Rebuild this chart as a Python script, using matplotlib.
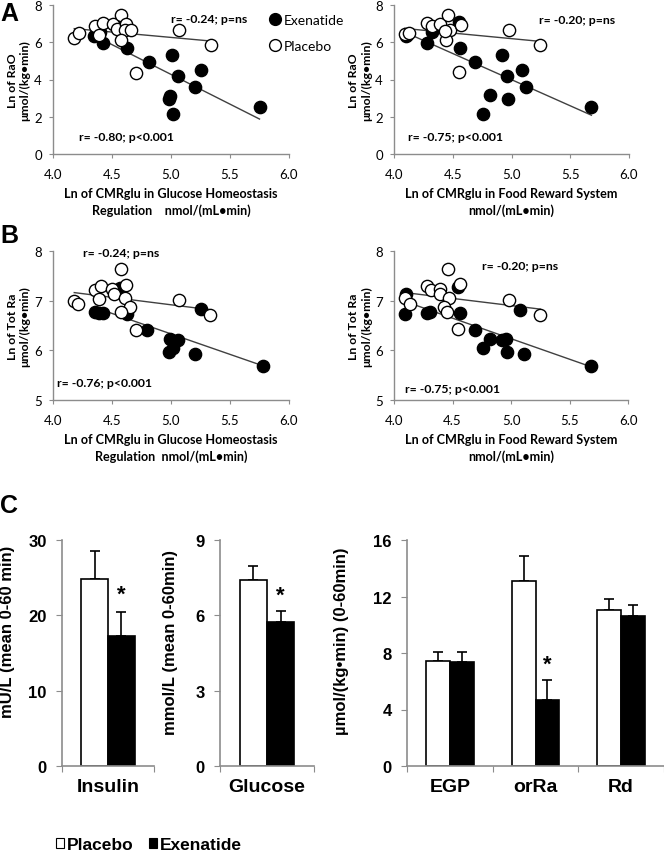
import matplotlib
matplotlib.use("Agg")
import matplotlib.pyplot as plt
from matplotlib.patches import Patch
from matplotlib.lines import Line2D
import numpy as np

# ---- panel A: Ln of RaO vs Ln of CMRglu ----
a1_plac_x = [4.18, 4.22, 4.36, 4.42, 4.39, 4.51, 4.54, 4.58, 4.62, 4.61, 4.66, 4.58, 4.70, 5.07, 5.34]
a1_plac_y = [6.23, 6.48, 6.89, 7.03, 6.39, 6.98, 6.71, 7.48, 6.98, 6.65, 6.67, 6.12, 4.36, 6.65, 5.85]
a1_exen_x = [4.35, 4.40, 4.42, 4.57, 4.63, 4.81, 5.01, 5.06, 5.25, 5.20, 4.99, 4.98, 5.02, 5.75]
a1_exen_y = [6.31, 6.53, 5.94, 7.03, 5.69, 4.96, 5.31, 4.17, 4.53, 3.58, 3.13, 2.95, 2.15, 2.54]

a2_plac_x = [4.09, 4.13, 4.28, 4.32, 4.39, 4.46, 4.48, 4.44, 4.57, 4.55, 4.98, 5.24, 4.43]
a2_plac_y = [6.44, 6.48, 7.01, 6.89, 6.98, 7.48, 6.65, 6.14, 6.94, 4.38, 6.65, 5.85, 6.62]
a2_exen_x = [4.10, 4.11, 4.28, 4.32, 4.55, 4.56, 4.69, 4.92, 4.96, 5.09, 5.12, 4.82, 4.97, 4.76, 5.68]
a2_exen_y = [6.31, 6.40, 5.94, 6.53, 7.07, 5.69, 4.96, 5.31, 4.17, 4.53, 3.58, 3.17, 2.95, 2.15, 2.54]

# ---- panel B: Ln of Tot Ra vs Ln of CMRglu ----
b1_plac_x = [4.18, 4.21, 4.36, 4.41, 4.39, 4.50, 4.52, 4.58, 4.62, 4.61, 4.65, 4.58, 4.70, 5.07, 5.33]
b1_plac_y = [6.99, 6.94, 7.22, 7.29, 7.04, 7.23, 7.14, 7.64, 7.31, 7.05, 6.87, 6.77, 6.41, 7.02, 6.72]
b1_exen_x = [4.36, 4.39, 4.42, 4.57, 4.63, 4.80, 4.99, 5.06, 5.02, 4.98, 5.20, 5.25, 5.78]
b1_exen_y = [6.77, 6.76, 6.76, 7.25, 6.74, 6.40, 6.23, 6.20, 6.04, 5.97, 5.93, 6.84, 5.69]

b2_plac_x = [4.09, 4.14, 4.28, 4.32, 4.39, 4.39, 4.46, 4.47, 4.43, 4.45, 4.56, 4.55, 4.98, 5.25]
b2_plac_y = [7.05, 6.94, 7.29, 7.22, 7.24, 7.14, 7.64, 7.05, 6.87, 6.77, 7.34, 6.42, 7.02, 6.72]
b2_exen_x = [4.10, 4.09, 4.28, 4.31, 4.55, 4.56, 4.69, 4.82, 4.76, 4.92, 4.96, 4.97, 5.11, 5.08, 5.68]
b2_exen_y = [7.14, 6.74, 6.76, 6.77, 7.27, 6.75, 6.40, 6.23, 6.04, 6.20, 6.22, 5.97, 5.93, 6.82, 5.69]

# ---- panel C: bars (mean, SEM) ----
ins_mean = [24.8, 17.3]
ins_err = [3.7, 3.1]
glu_mean = [7.41, 5.73]
glu_err = [0.55, 0.44]
flux_cats = ["EGP", "orRa", "Rd"]
flux_plac = [7.43, 13.1, 11.07]
flux_plac_err = [0.65, 1.75, 0.75]
flux_exen = [7.36, 4.64, 10.6]
flux_exen_err = [0.72, 1.43, 0.78]

W, H = 664, 853
fig = plt.figure(figsize=(W / 100, H / 100), dpi=100)

def rect(l, t, r, b):
    return [l / W, 1 - b / H, (r - l) / W, (b - t) / H]

SC_FONT = ["Lato", "DejaVu Sans"]
AR_FONT = ["Liberation Sans", "DejaVu Sans"]
GREY = "#8c8c8c"


def scatter_panel(pos, px, py, ex, ey, ylim, yticks, ylabel, xlabel, r_top, r_top_xy, r_bot, r_bot_xy):
    ax = fig.add_axes(pos)
    for xs, ys in ((px, py), (ex, ey)):
        k, b = np.polyfit(xs, ys, 1)
        xx = np.array([min(xs), max(xs)])
        ax.plot(xx, k * xx + b, color="#404040", lw=1.0, zorder=1)
    ax.scatter(px, py, s=78, facecolor="white", edgecolor="black", lw=1.0, zorder=3)
    ax.scatter(ex, ey, s=78, facecolor="black", edgecolor="black", lw=1.0, zorder=2)
    ax.set_xlim(4.0, 6.0)
    ax.set_ylim(*ylim)
    ax.set_xticks([4.0, 4.5, 5.0, 5.5, 6.0])
    ax.set_xticklabels(["4.0", "4.5", "5.0", "5.5", "6.0"])
    ax.set_yticks(yticks)
    for s in ("top", "right"):
        ax.spines[s].set_visible(False)
    for s in ("left", "bottom"):
        ax.spines[s].set_color(GREY)
        ax.spines[s].set_linewidth(1.0)
    ax.tick_params(direction="out", length=3, color=GREY, pad=5, labelsize=9.5)
    ax.tick_params(axis="x", pad=7)
    for lab in ax.get_xticklabels() + ax.get_yticklabels():
        lab.set_family(SC_FONT)
    ax.text(-0.145, 0.5, ylabel, transform=ax.transAxes, rotation=90, ha="center", va="center",
            fontsize=8.8, fontweight="bold", family=SC_FONT, linespacing=1.2)
    ax.text(0.5, -0.318, xlabel, transform=ax.transAxes, ha="center", va="center",
            fontsize=9.1, fontweight="bold", family=SC_FONT, linespacing=1.35)
    ax.text(r_top_xy[0], r_top_xy[1], r_top, transform=ax.transAxes, ha="center", va="center",
            fontsize=8.8, fontweight="bold", family=SC_FONT)
    ax.text(r_bot_xy[0], r_bot_xy[1], r_bot, transform=ax.transAxes, ha="center", va="center",
            fontsize=8.8, fontweight="bold", family=SC_FONT)
    return ax


axA1 = scatter_panel(rect(53, 6, 289, 155), a1_plac_x, a1_plac_y, a1_exen_x, a1_exen_y,
                     (0, 8), [0, 2, 4, 6, 8], "Ln of RaO\nμmol/(kg•min)",
                     "Ln of CMRglu in Glucose Homeostasis\nRegulation    nmol/(mL•min)",
                     "r= -0.24; p=ns", (0.66, 0.91), "r= -0.80; p<0.001", (0.31, 0.12))
axA2 = scatter_panel(rect(394, 6, 629, 155), a2_plac_x, a2_plac_y, a2_exen_x, a2_exen_y,
                     (0, 8), [0, 2, 4, 6, 8], "Ln of RaO\nμmol/(kg•min)",
                     "Ln of CMRglu in Food Reward System\nnmol/(mL•min)",
                     "r= -0.20; p=ns", (0.78, 0.9), "r= -0.75; p<0.001", (0.26, 0.12))
axB1 = scatter_panel(rect(53, 252, 289, 401), b1_plac_x, b1_plac_y, b1_exen_x, b1_exen_y,
                     (5, 8), [5, 6, 7, 8], "Ln of Tot Ra\nμmol/(kg•min)",
                     "Ln of CMRglu in Glucose Homeostasis\nRegulation  nmol/(mL•min)",
                     "r= -0.24; p=ns", (0.29, 0.99), "r= -0.76; p<0.001", (0.22, 0.12))
axB2 = scatter_panel(rect(394, 252, 628, 401), b2_plac_x, b2_plac_y, b2_exen_x, b2_exen_y,
                     (5, 8), [5, 6, 7, 8], "Ln of Tot Ra\nμmol/(kg•min)",
                     "Ln of CMRglu in Food Reward System\nnmol/(mL•min)",
                     "r= -0.20; p=ns", (0.54, 0.9), "r= -0.75; p<0.001", (0.25, 0.08))

leg_handles = [Line2D([], [], ls="none", marker="o", ms=8.5, mfc="black", mec="black", label="Exenatide"),
               Line2D([], [], ls="none", marker="o", ms=8.5, mfc="white", mec="black", label="Placebo")]
axA1.legend(handles=leg_handles, loc="upper left", bbox_to_anchor=(0.9, 0.98), frameon=False,
            handlelength=0.6, handletextpad=0.3, labelspacing=1.05, borderaxespad=0,
            prop={"family": SC_FONT, "size": 10})

# ---- panel C bars ----
def bar_axes(pos, ylim, yticks):
    ax = fig.add_axes(pos)
    ax.set_ylim(*ylim)
    ax.set_yticks(yticks)
    for s in ("top", "right"):
        ax.spines[s].set_visible(False)
    for s in ("left", "bottom"):
        ax.spines[s].set_color(GREY)
        ax.spines[s].set_linewidth(1.2)
    ax.tick_params(axis="y", direction="out", length=4, color=GREY, pad=7, labelsize=12)
    ax.tick_params(axis="x", which="major", direction="out", length=4, color=GREY, labelbottom=False)
    ax.tick_params(axis="x", which="minor", length=0, pad=9, labelsize=14)
    for lab in ax.get_yticklabels():
        lab.set_family(AR_FONT)
        lab.set_fontweight("bold")
    return ax


def draw_pair(ax, x, pm, pe, em, ee, bw):
    ax.bar(x - bw / 2, pm, bw, color="white", edgecolor="black", lw=1.2, zorder=2)
    ax.bar(x + bw / 2, em, bw, color="black", edgecolor="black", lw=1.2, zorder=2)
    ax.errorbar([x - bw / 2], [pm], yerr=[[0], [pe]], fmt="none", ecolor="black", elinewidth=1.2,
                capsize=3.5, capthick=1.2, zorder=1)
    ax.errorbar([x + bw / 2], [em], yerr=[[0], [ee]], fmt="none", ecolor="black", elinewidth=1.2,
                capsize=3.5, capthick=1.2, zorder=1)


def set_cats(ax, labels, n):
    ax.set_xlim(-0.5, n - 0.5)
    ax.set_xticks(np.arange(n + 1) - 0.5)
    ax.set_xticks(np.arange(n), minor=True)
    ax.set_xticklabels(labels, minor=True, fontweight="bold", family=AR_FONT)


def ylab(ax, x, y, text):
    ax.text(x, y, text, transform=ax.transAxes, rotation=90, ha="center", va="center",
            fontsize=12, fontweight="bold", family=AR_FONT)


def star(ax, x, y):
    ax.text(x, y, "*", ha="center", va="center", fontsize=16, fontweight="bold", family=AR_FONT)


axI = bar_axes(rect(62, 541, 154, 767), (0, 30), [0, 10, 20, 30])
draw_pair(axI, 0, ins_mean[0], ins_err[0], ins_mean[1], ins_err[1], 0.29)
set_cats(axI, ["Insulin"], 1)
star(axI, 0.145, 22.8)
ylab(axI, -0.59, 0.6, "mU/L (mean 0-60 min)")

axG = bar_axes(rect(220, 541, 314, 767), (0, 9), [0, 3, 6, 9])
draw_pair(axG, 0, glu_mean[0], glu_err[0], glu_mean[1], glu_err[1], 0.29)
set_cats(axG, ["Glucose"], 1)
star(axG, 0.145, 6.8)
ylab(axG, -0.53, 0.55, "mmol/L (mean 0-60min)")

axF = bar_axes(rect(407, 541, 664, 767), (0, 16), [0, 4, 8, 12, 16])
for i in range(len(flux_cats)):
    draw_pair(axF, i, flux_plac[i], flux_plac_err[i], flux_exen[i], flux_exen_err[i], 0.28)
set_cats(axF, flux_cats, 3)
star(axF, 1.14, 7.2)
ylab(axF, -0.255, 0.555, "µmol/(kg•min) (0-60min)")

fig.legend(handles=[Patch(facecolor="white", edgecolor="black", lw=0.8, label="Placebo"),
                    Patch(facecolor="black", edgecolor="black", lw=0.8, label="Exenatide")],
           loc="center left", bbox_to_anchor=(40 / W, 1 - 846 / H), ncol=2, frameon=False,
           handlelength=0.5, handleheight=0.5, handletextpad=0.12, columnspacing=0.9,
           prop={"family": AR_FONT, "weight": "bold", "size": 12.5})

# panel letters
for letter, y in (("A", 14), ("B", 236), ("C", 506)):
    fig.text(0.0, 1 - y / H, letter, ha="left", va="center", fontsize=18, fontweight="bold", family=AR_FONT)

fig.savefig("out.png", dpi=100)
